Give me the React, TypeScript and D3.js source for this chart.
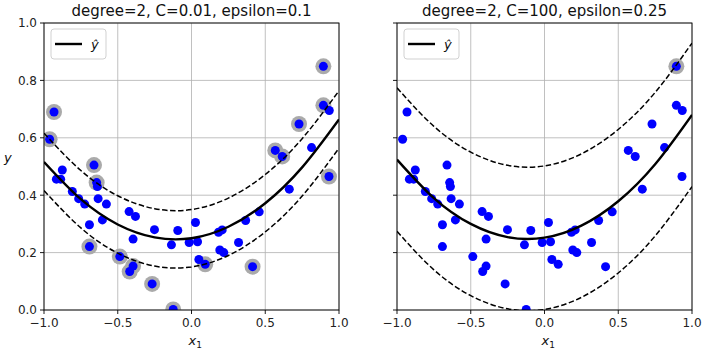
import React from 'react'
import * as d3 from 'd3'

// training points
const xs = [-0.962, -0.932, -0.916, -0.887, -0.876, -0.808, -0.765, -0.724, -0.692, -0.692,
  -0.661, -0.643, -0.638, -0.633, -0.577, -0.604, -0.486, -0.423, -0.380, -0.396,
  -0.419, -0.396, -0.251, -0.267, -0.136, -0.124, -0.093, -0.016, 0.027, 0.041,
  0.050, 0.093, 0.183, 0.208, 0.192, 0.219, 0.319, 0.367, 0.414, 0.459,
  0.568, 0.615, 0.663, 0.729, 0.814, 0.894, 0.894, 0.934, 0.932]
const ys = [0.595, 0.690, 0.456, 0.456, 0.488, 0.413, 0.388, 0.369, 0.297, 0.221,
  0.505, 0.444, 0.430, 0.388, 0.369, 0.314, 0.186, 0.343, 0.326, 0.247,
  0.134, 0.153, 0.280, 0.091, 0.227, 0.002, 0.277, 0.235, 0.305, 0.238,
  0.176, 0.159, 0.271, 0.279, 0.209, 0.200, 0.235, 0.312, 0.151, 0.342,
  0.556, 0.535, 0.421, 0.648, 0.566, 0.849, 0.713, 0.695, 0.465]

// support vector indices (into xs/ys)
const svLeft = [0, 1, 9, 10, 11, 16, 20, 21, 23, 25, 31, 38, 40, 41, 43, 45, 46, 48]
const svRight = [45]

// predictions read at these x
const curveX = [-1, -0.75, -0.5, -0.25, 0, 0.25, 0.5, 0.75, 1]
const yhatLeft = [0.516, 0.386, 0.298, 0.253, 0.250, 0.290, 0.372, 0.497, 0.664]
const yhatRight = [0.524, 0.390, 0.300, 0.254, 0.252, 0.294, 0.379, 0.508, 0.680]

const titles = ['degree=2, C=0.01, epsilon=0.1', 'degree=2, C=100, epsilon=0.25']
const epsilons = [0.1, 0.25]

const xTicks = [-1, -0.5, 0, 0.5, 1]
const yTicks = [0, 0.2, 0.4, 0.6, 0.8, 1]

const FONT = 'DejaVu Sans, sans-serif'

function Panel({left, title, yhat, eps, sv, showY}) {
  const x = d3.scaleLinear().domain([-1, 1]).range([left, left + 295])
  const y = d3.scaleLinear().domain([0, 1]).range([310, 23])
  const line = d3.line().x(d => x(d[0])).y(d => y(d[1])).curve(d3.curveNatural)
  const pts = off => curveX.map((v, i) => [v, yhat[i] + off])
  const fmt = d3.format('.1f')
  const [x0, x1] = x.range()
  const [y0, y1] = y.range()

  return <g>
    <defs>
      <clipPath id={'clip' + left}>
        <rect x={x0} y={y1} width={x1 - x0} height={y0 - y1} />
      </clipPath>
    </defs>
    {xTicks.map(t => <line key={'gx' + t} x1={x(t)} x2={x(t)} y1={y0} y2={y1} stroke="#b0b0b0" strokeWidth={0.8} />)}
    {yTicks.map(t => <line key={'gy' + t} x1={x0} x2={x1} y1={y(t)} y2={y(t)} stroke="#b0b0b0" strokeWidth={0.8} />)}
    <g clipPath={`url(#clip${left})`}>
      {sv.map(i => <circle key={'sv' + i} cx={x(xs[i])} cy={y(ys[i])} r={8} fill="#aaaaaa" />)}
      {xs.map((v, i) => <circle key={'p' + i} cx={x(v)} cy={y(ys[i])} r={4.5} fill="#0000ff" />)}
      <path d={line(pts(0))} fill="none" stroke="black" strokeWidth={2.4} />
      <path d={line(pts(eps))} fill="none" stroke="black" strokeWidth={1.5} strokeDasharray="5.5,2.5" />
      <path d={line(pts(-eps))} fill="none" stroke="black" strokeWidth={1.5} strokeDasharray="5.5,2.5" />
    </g>
    <rect x={x0} y={y1} width={x1 - x0} height={y0 - y1} fill="none" stroke="black" strokeWidth={0.9} />
    {xTicks.map(t => <g key={'tx' + t}>
      <line x1={x(t)} x2={x(t)} y1={y0} y2={y0 + 4} stroke="black" strokeWidth={0.9} />
      <text x={x(t)} y={y0 + 17} textAnchor="middle" fontSize={12} fontFamily={FONT} fill="#222">{fmt(t).replace('-', '\u2212')}</text>
    </g>)}
    {yTicks.map(t => <g key={'ty' + t}>
      <line x1={x0 - 4} x2={x0} y1={y(t)} y2={y(t)} stroke="black" strokeWidth={0.9} />
      {showY && <text x={x0 - 7} y={y(t) + 4.3} textAnchor="end" fontSize={12} fontFamily={FONT} fill="#222">{fmt(t)}</text>}
    </g>)}
    <text x={(x0 + x1) / 2} y={16} textAnchor="middle" fontSize={15} fontFamily={FONT} fill="#111">{title}</text>
    <text x={(x0 + x1) / 2 - 3} y={345} fontSize={13} fontFamily={FONT} fontStyle="italic" fill="#111">x<tspan fontSize={9} fontStyle="normal" dy={3}>1</tspan></text>
    {showY && <text x={4} y={162} fontSize={13} fontFamily={FONT} fontStyle="italic" fill="#111">y</text>}
    <rect x={x0 + 7} y={y1 + 6} width={55} height={30} rx={3} fill="white" fillOpacity={0.8} stroke="#cccccc" strokeWidth={0.9} />
    <line x1={x0 + 11} x2={x0 + 38} y1={y1 + 21} y2={y1 + 21} stroke="black" strokeWidth={2.4} />
    <text x={x0 + 47} y={y1 + 26} fontSize={13} fontFamily={FONT} fontStyle="italic" fill="#111">{'\u0177'}</text>
  </g>
}

export default function App() {
  return <svg width={709} height={352} style={{position: 'absolute', left: 0, top: 0, background: 'white'}}>
    <Panel left={44} title={titles[0]} yhat={yhatLeft} eps={epsilons[0]} sv={svLeft} showY={true} />
    <Panel left={397} title={titles[1]} yhat={yhatRight} eps={epsilons[1]} sv={svRight} showY={false} />
  </svg>
}
